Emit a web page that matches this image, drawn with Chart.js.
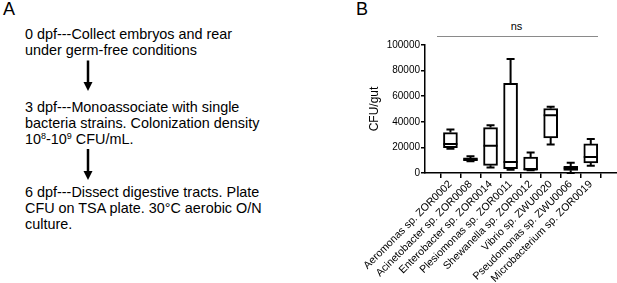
<!DOCTYPE html>
<html>
<head>
<meta charset="utf-8">
<script src="https://cdn.jsdelivr.net/npm/chart.js@4/dist/chart.umd.min.js"></script>
<style>
  html, body { margin:0; padding:0; background:#fff; }
  body { width:617px; height:283px; position:relative; overflow:hidden; font-family:'Liberation Sans', Arial, sans-serif; color:#000; }
  .lbl { position:absolute; font-size:18px; line-height:18px; }
  .step { position:absolute; left:25px; font-size:14.4px; line-height:16px; white-space:nowrap; }
  .step sup { font-size:9px; line-height:0; vertical-align:5px; }
  #wrap { position:absolute; left:340px; top:0; width:277px; height:283px; }
  #ns { position:absolute; left:505px; top:20px; width:23px; text-align:center; font-size:11px; line-height:13px; }
  #nsline { position:absolute; left:437px; top:35.5px; width:161px; height:1px; background:#8a8a8a; }
</style>
</head>
<body>
<div class="lbl" style="left:3px; top:0px;">A</div>
<div class="lbl" style="left:356px; top:0px;">B</div>

<div class="step" style="top:26px;">0 dpf---Collect embryos and rear<br>under germ-free conditions</div>
<div class="step" style="top:99px;">3 dpf---Monoassociate with single<br>bacteria strains. Colonization density<br>10<sup>8</sup>-10<sup>9</sup> CFU/mL.</div>
<div class="step" style="top:184px;">6 dpf---Dissect digestive tracts. Plate<br>CFU on TSA plate. 30°C aerobic O/N<br>culture.</div>

<svg style="position:absolute;left:0;top:0" width="340" height="283">
  <line x1="88" y1="60.5" x2="88" y2="83" stroke="#000" stroke-width="2.5"/>
  <polygon points="83.5,82 92.5,82 88,91" fill="#000"/>
  <line x1="88" y1="149" x2="88" y2="172" stroke="#000" stroke-width="2.5"/>
  <polygon points="83.5,171 92.5,171 88,180" fill="#000"/>
</svg>

<div id="ns">ns</div>
<div id="nsline"></div>

<div id="wrap"><canvas id="c" width="277" height="283"></canvas></div>

<script>
const categories = [
  'Aeromonas sp. ZOR0002',
  'Acinetobacter sp. ZOR0008',
  'Enterobacter sp. ZOR0014',
  'Plesiomonas sp. ZOR0011',
  'Shewanella sp. ZOR0012',
  'Vibrio sp. ZWU0020',
  'Pseudomonas sp. ZWU0006',
  'Microbacterium sp. ZOR0019'
];
const mins    = [19000,  9200,  4200,  2600,  2200, 22200,    0,  5700];
const q1s     = [19800,  9600,  6000,  3400,  2600, 27400, 2100,  7800];
const medians = [22700, 10600, 21200,  8600,  2800, 45200, 3700, 12500];
const q3s     = [31600, 11800, 35500, 70000, 12500, 50400, 5200, 22700];
const maxs    = [34000, 13000, 37300, 89000, 16000, 51700, 8100, 26600];
const yTicks  = [0, 20000, 40000, 60000, 80000, 100000];

const FONT = "'Liberation Sans', Arial, sans-serif";

const whiskerPlugin = {
  id: 'whiskers',
  afterDatasetsDraw(chart) {
    const {ctx, scales: {x, y}} = chart;
    ctx.save();
    ctx.strokeStyle = '#000';
    ctx.lineWidth = 2;
    ctx.lineCap = 'butt';
    const capHalf = 4;
    const boxHalf = 7;
    categories.forEach((c, i) => {
      const px = x.getPixelForValue(i);
      const yMin = y.getPixelForValue(mins[i]);
      const yQ1 = y.getPixelForValue(q1s[i]);
      const yMed = y.getPixelForValue(medians[i]);
      const yQ3 = y.getPixelForValue(q3s[i]);
      const yMax = y.getPixelForValue(maxs[i]);
      ctx.beginPath();
      ctx.moveTo(px, yQ3); ctx.lineTo(px, yMax);
      ctx.moveTo(px - capHalf, yMax); ctx.lineTo(px + capHalf, yMax);
      ctx.moveTo(px, yQ1); ctx.lineTo(px, yMin);
      ctx.moveTo(px - capHalf, yMin); ctx.lineTo(px + capHalf, yMin);
      ctx.moveTo(px - boxHalf, yMed); ctx.lineTo(px + boxHalf, yMed);
      ctx.stroke();
    });
    ctx.restore();
  }
};

new Chart(document.getElementById('c'), {
  type: 'bar',
  data: {
    datasets: [{
      data: categories.map((c, i) => ({ x: i, y: [q1s[i], q3s[i]] })),
      backgroundColor: '#fff',
      borderColor: '#000',
      borderWidth: 2,
      borderSkipped: false,
      barThickness: 14
    }]
  },
  options: {
    responsive: false,
    animation: false,
    devicePixelRatio: 1,
    layout: { padding: { left: 27, top: 45, right: 0, bottom: 0 } },
    plugins: { legend: { display: false }, tooltip: { enabled: false } },
    scales: {
      x: {
        type: 'linear',
        min: -0.67,
        max: 7.71,
        afterBuildTicks: s => { s.ticks = categories.map((c, i) => ({ value: i })); },
        afterFit: s => { s.height = 110; },
        ticks: {
          autoSkip: false,
          includeBounds: false,
          maxRotation: 45,
          minRotation: 45,
          padding: 0,
          color: '#000',
          font: { family: FONT, size: 10.6 },
          callback: v => categories[v]
        },
        grid: { drawOnChartArea: false, drawTicks: true, tickLength: 5, color: '#000', lineWidth: 1.5 },
        border: { display: true, color: '#000', width: 1.5 }
      },
      y: {
        min: 0,
        max: 100000,
        afterBuildTicks: s => { s.ticks = yTicks.map(v => ({ value: v })); },
        afterFit: s => { s.width = 58; },
        ticks: {
          padding: 1,
          color: '#000',
          font: { family: FONT, size: 10 },
          callback: v => String(v)
        },
        title: {
          display: true,
          text: 'CFU/gut',
          color: '#000',
          padding: 0,
          font: { family: FONT, size: 12 }
        },
        grid: { drawOnChartArea: false, drawTicks: true, tickLength: 4, color: '#000', lineWidth: 1.5 },
        border: { display: true, color: '#000', width: 1.5 }
      }
    }
  },
  plugins: [whiskerPlugin]
});
</script>
</body>
</html>
